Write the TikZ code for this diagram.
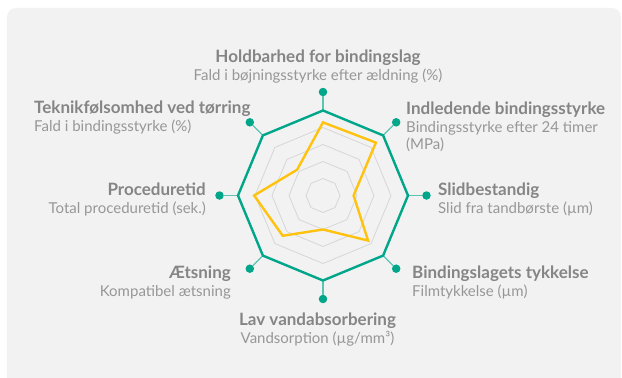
\documentclass[tikz,border=0pt]{standalone}
\usepackage{fontspec}
\setmainfont{Lato}
\usetikzlibrary{positioning}
\definecolor{panel}{HTML}{F2F2F2}
\definecolor{gridgray}{HTML}{D6D6D6}
\definecolor{rimteal}{HTML}{00A68A}
\definecolor{gold}{HTML}{FFC20E}
\definecolor{titlegray}{HTML}{858585}
\definecolor{subgray}{HTML}{979797}
\newcommand{\ttl}[1]{{\fontsize{17}{17.5}\selectfont\bfseries\color{titlegray}#1}}

\begin{document}
\begin{tikzpicture}[x=1pt,y=1pt,
  ring/.style={draw=gridgray,line width=0.8pt},
  rim/.style={draw=rimteal,line width=2.4pt},
  score/.style={draw=gold,line width=2.4pt},
  spoke/.style={draw=rimteal!65,line width=1.3pt},
  pin/.style={circle,fill=rimteal,inner sep=0pt,minimum size=8.5pt},
  axlabel/.style={inner sep=0pt,align=#1,text=subgray,font=\fontsize{15}{17.5}\selectfont}]

\useasboundingbox (-323,-182.5) rectangle (299,195.5);
\fill[panel,rounded corners=9pt] (-316,-200) rectangle (298,187.5);

\foreach \r in {17,34,51,68}
  \draw[ring] (90:\r) \foreach \a in {45,0,-45,-90,-135,-180,-225} { -- (\a:\r) } -- cycle;

\foreach \i in {1,...,8} {
  \coordinate (v\i) at ({135-45*\i}:85);
  \node[pin] (p\i) at ({135-45*\i}:103.5) {};
}
\foreach \i/\s in {1/0.86,2/0.88,3/0.36,4/0.75,5/0.40,6/0.67,7/0.81,8/0.43}
  \coordinate (s\i) at ({135-45*\i}:{85*\s});

\foreach \i in {1,...,8} \draw[spoke] (v\i) -- (p\i);
\draw[rim] (v1) -- (v2) -- (v3) -- (v4) -- (v5) -- (v6) -- (v7) -- (v8) -- cycle;
\draw[score] (s1) -- (s2) -- (s3) -- (s4) -- (s5) -- (s6) -- (s7) -- (s8) -- cycle;

\node[axlabel=center,anchor=base] (holdbar) at (-5,115) {\ttl{Holdbarhed for bindingslag}\\Fald i bøjningsstyrke efter ældning (\%)};
\node[axlabel=left,anchor=base west] (indled) at (83,46) {\ttl{Indledende bindingsstyrke}\\Bindingsstyrke efter 24 timer\\(MPa)};
\node[axlabel=left,anchor=base west] (slid) at (115,-17.5) {\ttl{Slidbestandig}\\Slid fra tandbørste (µm)};
\node[axlabel=left,anchor=base west] (tykkelse) at (89,-100.5) {\ttl{Bindingslagets tykkelse}\\Filmtykkelse (µm)};
\node[axlabel=center,anchor=base] (vand) at (-5.5,-147.5) {\ttl{Lav vandabsorbering}\\Vandsorption (µg/mm³)};
\node[axlabel=right,anchor=base east] (aets) at (-92,-100.5) {\ttl{Ætsning}\\Kompatibel ætsning};
\node[axlabel=right,anchor=base east] (tid) at (-117,-17.5) {\ttl{Proceduretid}\\Total proceduretid (sek.)};
\node[axlabel=left,anchor=base west] (teknik) at (-289,64.5) {\ttl{Teknikfølsomhed ved tørring}\\Fald i bindingsstyrke (\%)};

\end{tikzpicture}
\end{document}
